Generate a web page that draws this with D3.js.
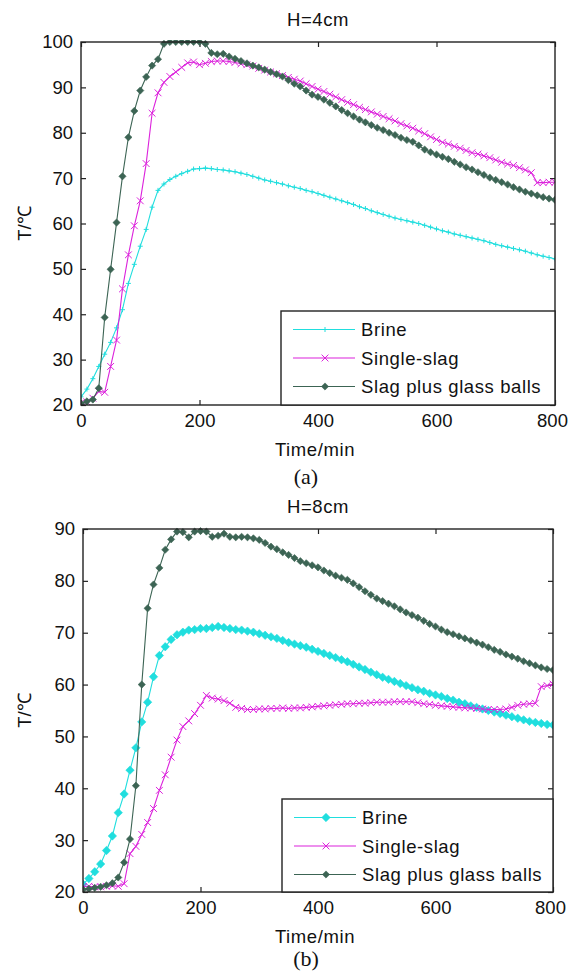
<!DOCTYPE html>
<html>
<head>
<meta charset="utf-8">
<script src="https://cdn.jsdelivr.net/npm/d3@7/dist/d3.min.js"></script>
<style>
  body { margin: 0; background: #fff; }
  svg text { font-family: "Liberation Sans", Arial, sans-serif; fill: #111; }
</style>
</head>
<body>
<div id="chart"></div>
<script>
// temperature vs time, two bed heights (H=4cm / H=8cm)

// sampling times, min (one reading every 10 min)
var timeMin = [0,10,20,30,40,50,60,70,80,90,100,110,120,130,140,150,160,170,180,190,200,
  210,220,230,240,250,260,270,280,290,300,310,320,330,340,350,360,370,380,390,400,
  410,420,430,440,450,460,470,480,490,500,510,520,530,540,550,560,570,580,590,600,
  610,620,630,640,650,660,670,680,690,700,710,720,730,740,750,760,770,780,790,800];

// H=4cm
var h4Brine = [21.8,23.5,25.8,28.5,31.2,33.8,37.0,41.0,46.8,51.0,55.0,58.7,63.6,67.3,68.7,69.7,70.4,71.0,71.5,72.0,72.1,
  72.2,72.1,71.9,71.8,71.6,71.4,71.1,70.8,70.4,70.0,69.6,69.3,69.0,68.7,68.3,68.0,67.7,67.3,67.0,66.6,
  66.2,65.8,65.4,65.0,64.6,64.2,63.7,63.3,62.8,62.4,62.0,61.6,61.2,60.9,60.6,60.3,60.0,59.6,59.2,58.8,
  58.4,58.1,57.7,57.4,57.1,56.8,56.5,56.2,55.8,55.4,55.1,54.8,54.5,54.2,53.9,53.5,53.1,52.8,52.5,52.2];
var h4Single = [20.5,20.7,21.5,23.0,22.8,28.5,34.3,45.6,53.1,59.5,65.0,73.2,84.3,88.8,91.1,92.4,93.4,94.4,95.4,95.6,95.0,
  95.3,95.7,95.8,95.8,95.7,95.5,95.2,95.0,94.7,94.2,93.8,93.4,93.0,92.6,92.2,91.8,91.4,90.8,90.2,89.6,
  89.1,88.5,87.9,87.3,86.7,86.2,85.6,85.1,84.6,84.1,83.6,83.1,82.6,82.0,81.5,81.0,80.4,79.8,79.1,78.5,
  77.9,77.5,77.0,76.6,76.1,75.6,75.3,74.9,74.5,74.0,73.5,73.1,72.8,72.3,71.8,71.2,69.0,69.0,69.1,69.1];
var h4Slag = [20.3,20.8,21.2,23.7,39.3,49.9,60.2,70.4,79.0,84.8,89.3,92.3,94.8,96.2,99.6,100,100,100,100,100,100,
  99.6,97.6,97.3,97.4,96.8,96.3,95.8,95.3,94.8,94.4,93.9,93.4,92.9,92.4,91.6,90.8,90.2,89.3,88.4,87.9,
  87.3,86.6,85.8,85.0,84.3,83.6,82.9,82.3,81.7,81.1,80.6,80.0,79.5,78.9,78.4,78.0,77.2,76.3,75.7,75.2,
  74.7,74.2,73.6,73.0,72.4,71.9,71.3,70.7,70.1,69.6,69.1,68.6,68.0,67.5,67.0,66.6,66.2,65.8,65.5,65.2];

// H=8cm
var h8Brine = [21.5,22.6,23.9,25.4,28.0,30.8,35.3,38.9,43.5,47.8,52.8,56.6,61.5,65.6,67.3,68.7,69.6,70.1,70.5,70.6,70.8,
  70.8,71.0,71.2,71.0,70.8,70.6,70.5,70.3,70.1,69.8,69.5,69.2,68.9,68.5,68.1,67.8,67.5,67.2,66.8,66.4,
  66.0,65.6,65.2,64.8,64.4,63.9,63.4,62.9,62.4,61.9,61.4,61.0,60.6,60.2,59.8,59.4,59.0,58.7,58.3,58.0,
  57.7,57.3,57.0,56.6,56.3,55.9,55.6,55.3,55.0,54.7,54.4,54.1,53.8,53.5,53.2,52.9,52.7,52.5,52.3,52.2];
var h8Single = [21.0,21.1,21.0,21.0,21.1,21.2,21.1,21.6,27.4,28.8,31.1,33.4,36.1,39.6,42.6,46.0,49.3,51.9,53.0,54.4,56.0,
  57.9,57.4,57.2,56.9,56.4,55.6,55.4,55.2,55.2,55.3,55.3,55.4,55.4,55.5,55.4,55.5,55.5,55.6,55.7,55.8,
  55.9,56.0,56.1,56.2,56.3,56.3,56.4,56.4,56.5,56.6,56.6,56.6,56.7,56.7,56.7,56.7,56.5,56.3,56.2,56.0,
  55.9,55.8,55.7,55.6,55.5,55.5,55.4,55.3,55.2,55.2,55.2,55.3,55.6,56.0,56.2,56.3,56.4,59.6,59.8,60.1];
var h8Slag = [20.5,20.6,20.8,21.0,21.3,21.7,22.8,25.7,30.2,40.5,60.0,74.7,79.3,82.5,86.0,88.0,89.5,89.4,88.4,89.5,89.6,
  89.5,88.5,88.7,89.1,88.5,88.4,88.5,88.4,88.2,87.9,87.3,86.6,86.1,85.5,85.0,84.4,83.8,83.4,83.0,82.6,
  82.0,81.5,81.0,80.6,80.2,79.5,78.8,78.0,77.3,76.6,76.1,75.6,75.1,74.5,73.9,73.4,72.9,72.3,71.7,71.2,
  70.6,70.1,69.7,69.3,68.9,68.5,68.1,67.7,67.2,66.7,66.3,65.8,65.4,65.0,64.5,64.1,63.7,63.3,63.0,62.8];

var seriesNames = ["Brine", "Single-slag", "Slag plus glass balls"];
var xTicks = [0, 200, 400, 600, 800];
var yTicks4 = [20, 30, 40, 50, 60, 70, 80, 90, 100];
var yTicks8 = [20, 30, 40, 50, 60, 70, 80, 90];

var colors = {
  "Brine": "#20dede",
  "Single-slag": "#dc22dc",
  "Slag plus glass balls": "#3c6454"
};

var width = 568, height = 979;

var svg = d3.select("#chart")
    .append("svg")
    .attr("width", width)
    .attr("height", height);

// marker shapes
var plusPath = function(s) { return "M" + (-s) + ",0H" + s + "M0," + (-s) + "V" + s; };
var crossPath = function(s) { return "M" + (-s) + "," + (-s) + "L" + s + "," + s + "M" + (-s) + "," + s + "L" + s + "," + (-s); };
var diamondPath = function(s) { return "M0," + (-s) + "L" + s + ",0L0," + s + "L" + (-s) + ",0Z"; };

function drawMarker(g, kind, color) {
  if (kind == "plus") {
    g.append("path").attr("d", plusPath(2.5)).attr("stroke", color).attr("stroke-width", 1).attr("fill", "none");
  } else if (kind == "cross") {
    g.append("path").attr("d", crossPath(3.4)).attr("stroke", color).attr("stroke-width", 1).attr("fill", "none");
  } else {
    g.append("path").attr("d", diamondPath(kind == "bigdiamond" ? 4.2 : 3.6)).attr("fill", color).attr("stroke", color).attr("stroke-width", 0.6);
  }
}

function drawPanel(p, idx) {
  var x = d3.scaleLinear().domain([0, 800]).range([p.left, p.right]);
  var y = d3.scaleLinear().domain(p.yDomain).range([p.bottom, p.top]);

  var g = svg.append("g");

  var clipId = "clip" + idx;
  svg.append("clipPath").attr("id", clipId)
    .append("rect")
      .attr("x", p.left).attr("y", p.top - 2)
      .attr("width", p.right - p.left).attr("height", p.bottom - p.top + 2);

  // axes (ticks inside, mirrored on top/right)
  g.append("g")
      .attr("transform", "translate(0," + p.bottom + ")")
      .call(d3.axisBottom(x).tickValues(xTicks).tickSizeInner(-5).tickSizeOuter(0).tickPadding(9))
      .call(function(a) { a.select(".domain").remove(); });
  g.append("g")
      .attr("transform", "translate(0," + p.top + ")")
      .call(d3.axisTop(x).tickValues(xTicks).tickSizeInner(-5).tickSizeOuter(0).tickFormat(""))
      .call(function(a) { a.select(".domain").remove(); });
  g.append("g")
      .attr("transform", "translate(" + p.left + ",0)")
      .call(d3.axisLeft(y).tickValues(p.yTicks).tickSizeInner(-5).tickSizeOuter(0).tickPadding(8))
      .call(function(a) { a.select(".domain").remove(); });
  g.append("g")
      .attr("transform", "translate(" + p.right + ",0)")
      .call(d3.axisRight(y).tickValues(p.yTicks).tickSizeInner(-5).tickSizeOuter(0).tickFormat(""))
      .call(function(a) { a.select(".domain").remove(); });

  g.selectAll(".tick line").attr("stroke", "#222").attr("stroke-width", 1.2);
  g.selectAll(".tick text").style("font-size", "18.5px").attr("fill", "#111");
  // last x label sits right at the page edge; pull it in a touch
  g.selectAll(".tick text").filter(function(d) { return d === 800; }).attr("dx", "-3");

  // lines + markers
  var line = d3.line()
      .x(function(d) { return x(d.t); })
      .y(function(d) { return y(d.v); });

  var plot = svg.append("g").attr("clip-path", "url(#" + clipId + ")");
  p.series.forEach(function(s) {
    var pts = timeMin.map(function(t, i) { return {t: t, v: s.values[i]}; });
    plot.append("path")
        .datum(pts)
        .attr("d", line)
        .attr("fill", "none")
        .attr("stroke", colors[s.name])
        .attr("stroke-width", 1.1);
    plot.selectAll(null)
        .data(pts)
        .enter().append("g")
        .attr("transform", function(d) { return "translate(" + x(d.t) + "," + y(d.v) + ")"; })
        .each(function() { drawMarker(d3.select(this), s.marker, colors[s.name]); });
  });

  // plot box
  svg.append("rect")
      .attr("x", p.left).attr("y", p.top)
      .attr("width", p.right - p.left).attr("height", p.bottom - p.top)
      .attr("fill", "none").attr("stroke", "#222").attr("stroke-width", 1.4);

  // titles
  svg.append("text")
      .attr("x", (p.left + p.right) / 2).attr("y", p.top - 16)
      .attr("text-anchor", "middle").style("font-size", "18.5px").style("letter-spacing", "0.6px")
      .text(p.title);
  svg.append("text")
      .attr("x", (p.left + p.right) / 2 - 3).attr("y", p.bottom + 50.5)
      .attr("text-anchor", "middle").style("font-size", "18.5px").style("letter-spacing", "0.6px")
      .text("Time/min");
  svg.append("text")
      .attr("transform", "translate(31," + (p.top + p.bottom) / 2 + ") rotate(-90)")
      .attr("text-anchor", "middle").style("font-size", "18.5px")
      .text("T/℃");
  svg.append("text")
      .attr("x", (p.left + p.right) / 2 - 12).attr("y", p.bottom + p.capOffset)
      .attr("text-anchor", "middle")
      .style("font-family", "'Liberation Serif', 'Times New Roman', serif")
      .style("font-size", "22px")
      .text(p.caption);

  // legend
  var L = p.legend;
  var leg = svg.append("g");
  leg.append("rect")
      .attr("x", L.x0).attr("y", L.y0)
      .attr("width", L.x1 - L.x0).attr("height", L.y1 - L.y0)
      .attr("fill", "#fff").attr("stroke", "#222").attr("stroke-width", 1.4);
  p.series.forEach(function(s, i) {
    var ry = L.y0 + 18.5 + i * 28.5;
    var row = leg.append("g").attr("transform", "translate(0," + ry + ")");
    row.append("line")
        .attr("x1", L.x0 + 12).attr("x2", L.x0 + 74)
        .attr("stroke", colors[s.name]).attr("stroke-width", 1.1);
    var m = row.append("g").attr("transform", "translate(" + (L.x0 + 44) + ",0)");
    drawMarker(m, s.marker, colors[s.name]);
    row.append("text")
        .attr("x", L.x0 + 80).attr("dy", "0.36em")
        .style("font-size", "18.5px").style("letter-spacing", "0.6px")
        .text(s.name);
  });
}

var panels = [
  {
    title: "H=4cm", caption: "(a)", capOffset: 79,
    left: 81, right: 555, top: 42, bottom: 405,
    yDomain: [20, 100], yTicks: yTicks4,
    legend: {x0: 281, y0: 311, x1: 555, y1: 405},
    series: [
      {name: seriesNames[0], values: h4Brine, marker: "plus"},
      {name: seriesNames[1], values: h4Single, marker: "cross"},
      {name: seriesNames[2], values: h4Slag, marker: "diamond"}
    ]
  },
  {
    title: "H=8cm", caption: "(b)", capOffset: 74,
    left: 83, right: 553, top: 529, bottom: 892,
    yDomain: [20, 90], yTicks: yTicks8,
    legend: {x0: 282, y0: 799, x1: 553, y1: 892},
    series: [
      {name: seriesNames[0], values: h8Brine, marker: "bigdiamond"},
      {name: seriesNames[1], values: h8Single, marker: "cross"},
      {name: seriesNames[2], values: h8Slag, marker: "diamond"}
    ]
  }
];

panels.forEach(drawPanel);
</script>
</body>
</html>
